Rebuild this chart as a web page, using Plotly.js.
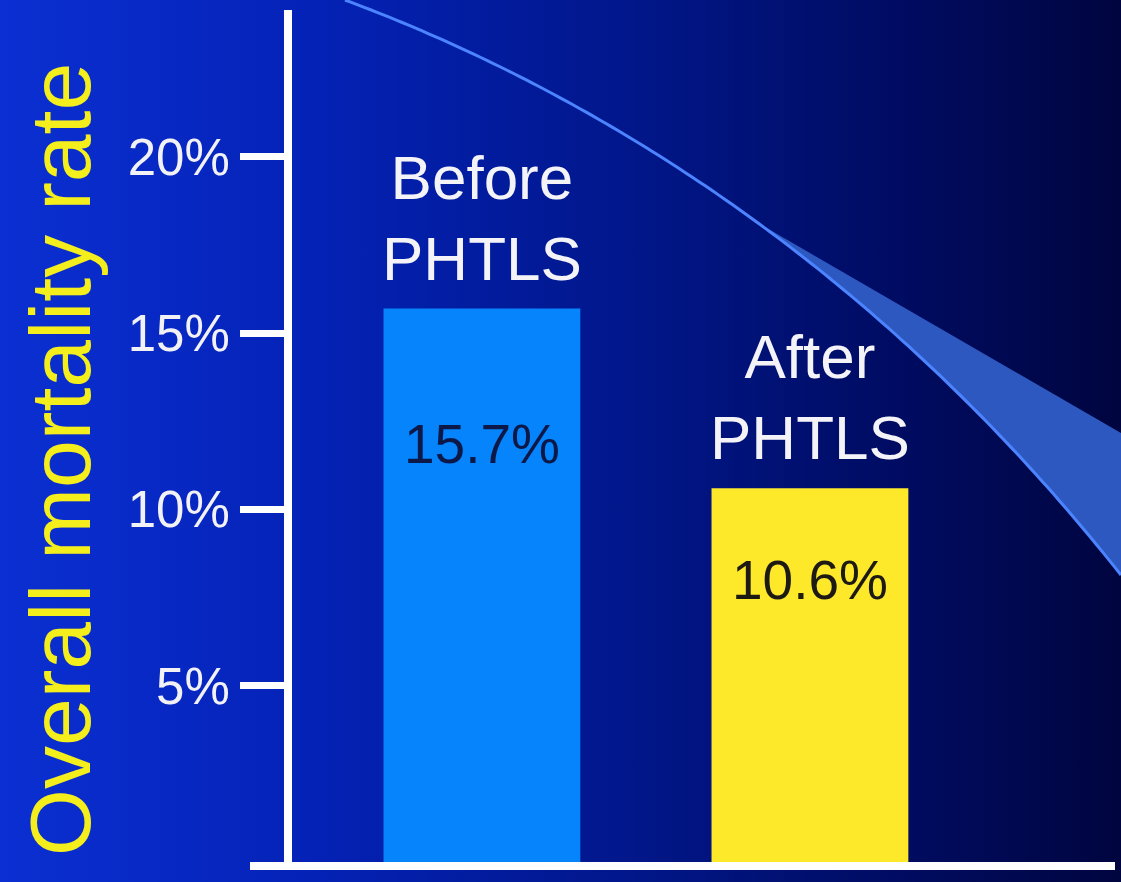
<!DOCTYPE html>
<html>
<head>
<meta charset="utf-8">
<script src="https://cdn.plot.ly/plotly-3.0.1.min.js"></script>
<style>
  html, body { margin: 0; padding: 0; width: 1121px; height: 882px; overflow: hidden; }
  body { background: linear-gradient(90deg, #0b2fd2 0%, #0422b6 28%, #01178c 55%, #000c62 80%, #00053f 100%); }
  #chart { width: 1121px; height: 882px; }
</style>
</head>
<body>
<div id="chart"></div>
<script>
// ---- data ----
const categories = ['Before PHTLS', 'After PHTLS'];
const mortalityRates = [15.7, 10.6];
const barColors = ['#0684fb', '#fde82a'];
const valueLabelColors = ['#0c1848', '#1c1a12'];
const tickValues = [5, 10, 15, 20];
const tickLabels = ['5%', '10%', '15%', '20%'];
const yTitle = 'Overall mortality rate';

// ---- layout helpers (figure pixels -> paper fractions) ----
const W = 1121, H = 882;
const px = x => x / W;
const py = y => 1 - y / H;

// decorative swoosh (background ornament): one cubic Bezier, sampled
const swooshCtrl = [[345, 0], [600, 95], [880, 270], [1121, 575]];
function sampleBezier(c, n) {
  const out = [];
  for (let i = 0; i <= n; i++) {
    const t = i / n, m = 1 - t;
    const a = m * m * m, b = 3 * m * m * t, d = 3 * m * t * t, e = t * t * t;
    out.push([a * c[0][0] + b * c[1][0] + d * c[2][0] + e * c[3][0],
              a * c[0][1] + b * c[1][1] + d * c[2][1] + e * c[3][1]]);
  }
  return out;
}
const curvePts = sampleBezier(swooshCtrl, 120);
const toPath = pts => pts.map((p, i) => (i ? 'L ' : 'M ') + px(p[0]).toFixed(5) + ',' + py(p[1]).toFixed(5)).join(' ');
const swooshLine = toPath(curvePts);
const wedgeLower = curvePts.filter(p => p[0] >= 752);
const swooshWedge = toPath([[wedgeLower[0][0], wedgeLower[0][1]], [1121, 433]].concat(wedgeLower.slice().reverse())) + ' Z';

const trace = {
  type: 'bar',
  x: categories,
  y: mortalityRates,
  width: 0.6,
  marker: { color: barColors, line: { width: 0 } },
  hoverinfo: 'none'
};

const annotations = [];
categories.forEach((c, i) => {
  annotations.push({
    x: c, y: mortalityRates[i], xref: 'x', yref: 'y',
    text: c.replace(' ', '<br>'),
    showarrow: false, yanchor: 'bottom', yshift: 14,
    font: { family: 'Liberation Sans, Arial, sans-serif', size: 62, color: '#f4f4f8' }
  });
  annotations.push({
    x: c, y: mortalityRates[i] * 0.755, xref: 'x', yref: 'y',
    text: mortalityRates[i].toFixed(1) + '%',
    showarrow: false, yanchor: 'middle',
    font: { family: 'Liberation Sans, Arial, sans-serif', size: 55, color: valueLabelColors[i] }
  });
});
annotations.push({
  x: px(60), y: py(460), xref: 'paper', yref: 'paper',
  text: yTitle, textangle: -90, showarrow: false,
  xanchor: 'center', yanchor: 'middle',
  font: { family: 'Liberation Sans, Arial, sans-serif', size: 86, color: '#f3ee1c' }
});

const layout = {
  width: W, height: H,
  margin: { l: 0, r: 0, t: 0, b: 0 },
  paper_bgcolor: 'rgba(0,0,0,0)',
  plot_bgcolor: 'rgba(0,0,0,0)',
  showlegend: false,
  xaxis: {
    domain: [px(250), px(1115)],
    range: [-0.707, 1.93],
    showticklabels: false,
    ticks: '',
    showgrid: false,
    zeroline: false,
    showline: true,
    linecolor: '#ffffff',
    linewidth: 8,
    fixedrange: true
  },
  yaxis: {
    domain: [py(862), py(10)],
    range: [0, 24.17],
    anchor: 'free',
    position: px(288),
    tickvals: tickValues,
    ticktext: tickLabels,
    ticks: 'outside',
    ticklen: 44,
    tickwidth: 7,
    tickcolor: '#ffffff',
    tickfont: { family: 'Liberation Sans, Arial, sans-serif', size: 51, color: '#f2f2f6' },
    showgrid: false,
    zeroline: false,
    showline: true,
    linecolor: '#ffffff',
    linewidth: 8,
    automargin: false,
    fixedrange: true
  },
  shapes: [
    { type: 'path', xref: 'paper', yref: 'paper', path: swooshWedge, layer: 'below',
      fillcolor: '#2d58c0', line: { width: 0 } },
    { type: 'path', xref: 'paper', yref: 'paper', path: swooshLine, layer: 'below',
      fillcolor: 'rgba(0,0,0,0)', line: { color: '#4c84ff', width: 3 } }
  ],
  annotations: annotations
};

Plotly.newPlot('chart', [trace], layout, { displayModeBar: false, staticPlot: true });
</script>
</body>
</html>
